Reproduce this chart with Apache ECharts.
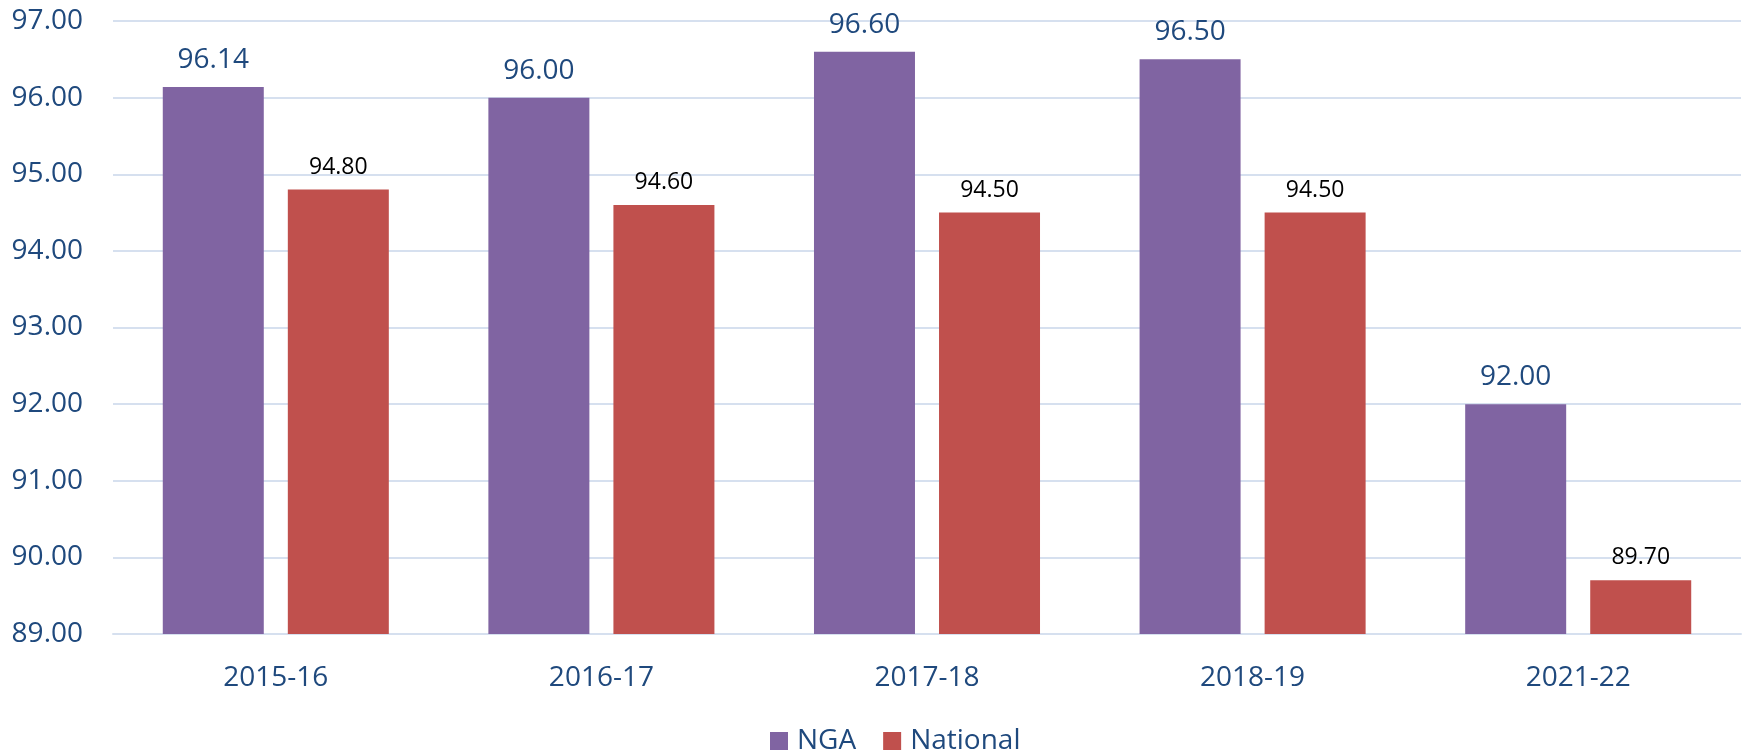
<!DOCTYPE html>
<html>
<head>
<meta charset="utf-8">
<script src="https://cdn.jsdelivr.net/npm/echarts@6/dist/echarts.min.js"></script>
<style>html,body{margin:0;padding:0;background:#fff;}#c{width:1746px;height:753px;}</style>
</head>
<body>
<div id="c"></div>
<script>
const categories = ['2015-16', '2016-17', '2017-18', '2018-19', '2021-22'];
const ngaValues = [96.14, 96.00, 96.60, 96.50, 92.00];
const nationalValues = [94.80, 94.60, 94.50, 94.50, 89.70];
const seriesNames = ['NGA', 'National'];

const blue = '#1F497D';
const font = 'Open Sans';
const chart = echarts.init(document.getElementById('c'), null, {renderer: 'canvas'});
chart.setOption({
  animation: false,
  textStyle: {fontFamily: font},
  grid: {left: 113, right: 5, top: 21, bottom: 119, containLabel: false},
  legend: {
    data: seriesNames,
    top: 722,
    left: 765,
    itemWidth: 18, itemHeight: 18, itemGap: 27,
    icon: 'rect',
    textStyle: {color: blue, fontSize: 28, fontFamily: font, padding: [0, 0, 0, 4]}
  },
  xAxis: {
    type: 'category',
    data: categories,
    axisLine: {lineStyle: {color: '#D6E0EF', width: 2}},
    axisTick: {show: false},
    axisLabel: {color: blue, fontSize: 28, margin: 30, fontFamily: font}
  },
  yAxis: {
    type: 'value',
    min: 89, max: 97, interval: 1,
    axisLine: {show: false},
    axisTick: {show: false},
    splitLine: {lineStyle: {color: '#D6E0EF', width: 2}},
    axisLabel: {color: blue, fontSize: 28, margin: 30, fontFamily: font,
      formatter: v => v.toFixed(2)}
  },
  series: [
    {
      name: seriesNames[0], type: 'bar', data: ngaValues,
      barWidth: 101, barGap: '23.8%',
      itemStyle: {color: '#8064A2'},
      label: {show: true, position: 'top', distance: 13, color: blue, fontSize: 28,
        fontFamily: font, formatter: p => p.value.toFixed(2)}
    },
    {
      name: seriesNames[1], type: 'bar', data: nationalValues,
      barWidth: 101,
      itemStyle: {color: '#C0504D'},
      label: {show: true, position: 'top', distance: 11, color: '#000', fontSize: 23,
        fontFamily: font, formatter: p => p.value.toFixed(2)}
    }
  ]
});
</script>
</body>
</html>
